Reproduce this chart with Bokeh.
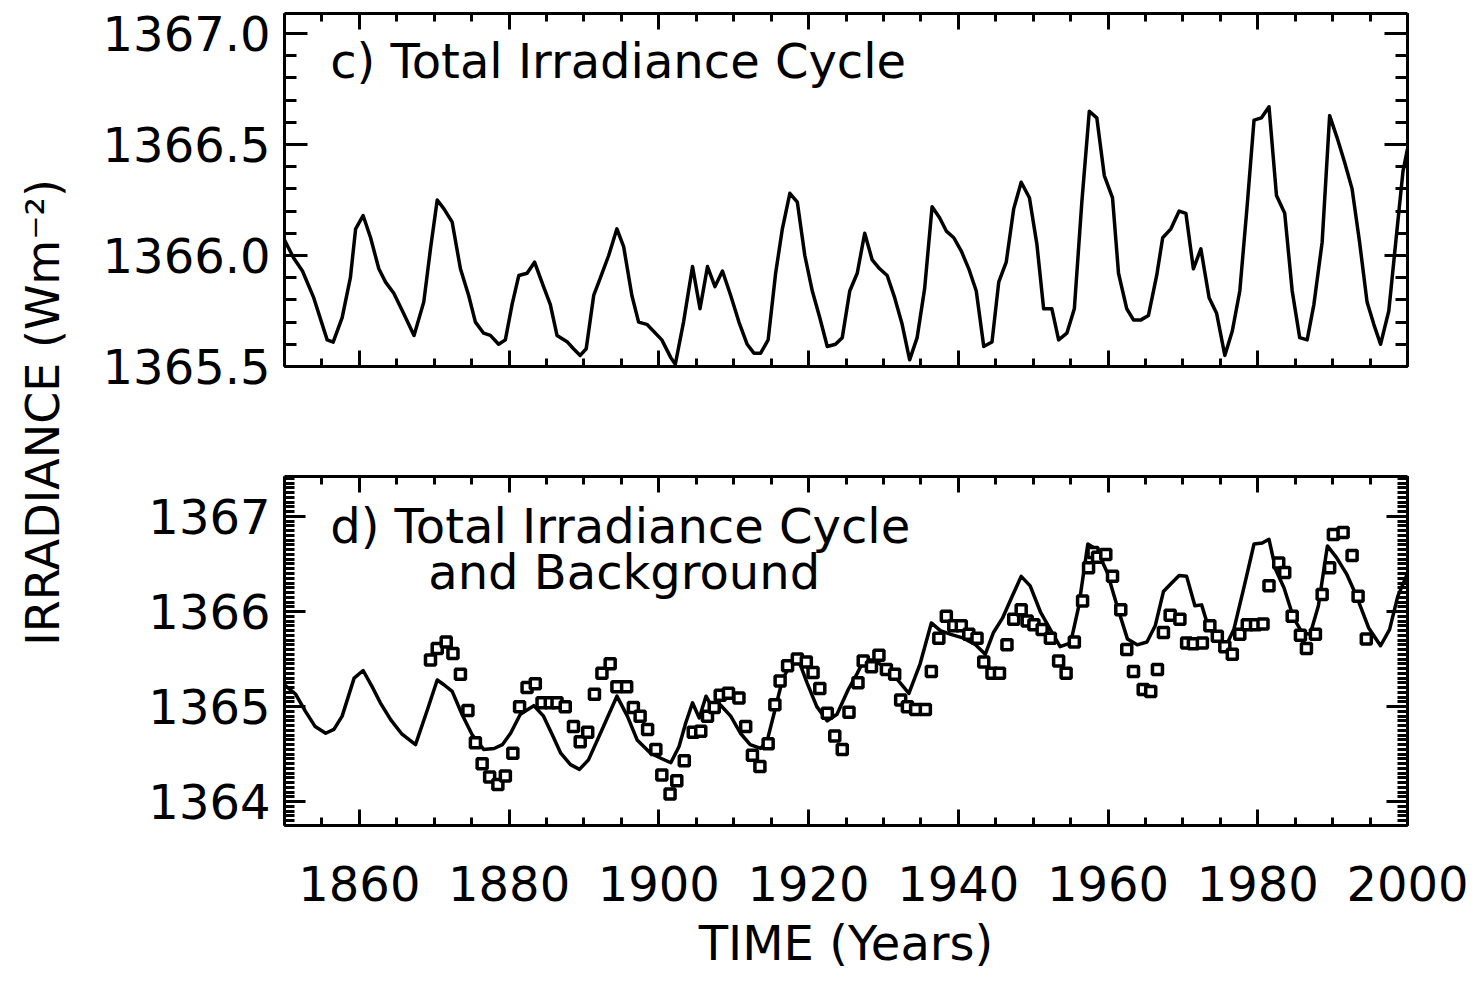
import math
from bokeh.plotting import figure
from bokeh.models import (Range1d, LinearAxis, SingleIntervalTicker, PrintfTickFormatter,
                          CustomJSTickFormatter, Label)
from bokeh.layouts import row, column
from bokeh.embed import file_html
from bokeh.resources import INLINE

# ---------------- data ----------------
# panel c) total irradiance cycle
years_c = [1850.0, 1851.2, 1852.4, 1853.9, 1855.7, 1856.5, 1857.7, 1858.8, 1859.5, 1860.5,
           1861.5, 1862.6, 1863.5, 1864.6, 1865.9, 1867.3, 1868.6, 1869.5, 1870.4, 1871.3,
           1872.4, 1873.5, 1874.6, 1875.5, 1876.6, 1877.5, 1878.6, 1879.5, 1880.4, 1881.3,
           1882.4, 1883.4, 1884.6, 1885.5, 1886.4, 1887.8, 1888.6, 1889.5, 1890.3, 1891.3,
           1892.2, 1893.3, 1894.4, 1895.3, 1896.4, 1897.3, 1898.4, 1900.4, 1901.6, 1902.2,
           1903.3, 1904.5, 1905.5, 1906.5, 1907.5, 1908.5, 1909.6, 1910.7, 1911.8, 1912.7,
           1913.6, 1914.6, 1915.6, 1916.5, 1917.5, 1918.5, 1919.5, 1920.5, 1921.5, 1922.5,
           1923.6, 1924.5, 1925.5, 1926.5, 1927.5, 1928.5, 1929.5, 1930.5, 1931.5, 1932.5,
           1933.5, 1934.5, 1935.5, 1936.5, 1937.5, 1938.4, 1939.4, 1940.4, 1941.4, 1942.4,
           1943.4, 1944.5, 1945.4, 1946.4, 1947.4, 1948.4, 1949.5, 1950.5, 1951.4, 1952.5,
           1953.4, 1954.5, 1955.5, 1956.5, 1957.5, 1958.5, 1959.5, 1960.6, 1961.4, 1962.5,
           1963.4, 1964.4, 1965.4, 1966.5, 1967.3, 1968.4, 1969.5, 1970.4, 1971.4, 1972.4,
           1973.5, 1974.5, 1975.6, 1976.6, 1977.6, 1978.6, 1979.5, 1980.5, 1981.5, 1982.5,
           1983.6, 1984.6, 1985.6, 1986.6, 1987.5, 1988.6, 1989.6, 1990.6, 1991.6, 1992.6,
           1993.6, 1994.6, 1995.5, 1996.4, 1997.5, 1998.4, 1999.4, 2000.0]
irr_c = [1366.07, 1365.99, 1365.93, 1365.81, 1365.62, 1365.61, 1365.72, 1365.90, 1366.12, 1366.18,
         1366.08, 1365.94, 1365.88, 1365.83, 1365.74, 1365.64, 1365.79, 1366.03, 1366.25, 1366.21,
         1366.15, 1365.94, 1365.82, 1365.70, 1365.65, 1365.64, 1365.60, 1365.62, 1365.78, 1365.91,
         1365.92, 1365.97, 1365.86, 1365.78, 1365.64, 1365.61, 1365.58, 1365.55, 1365.58, 1365.82,
         1365.90, 1366.00, 1366.12, 1366.04, 1365.82, 1365.70, 1365.69, 1365.62, 1365.54, 1365.51,
         1365.70, 1365.95, 1365.76, 1365.95, 1365.86, 1365.93, 1365.82, 1365.70, 1365.60, 1365.56,
         1365.56, 1365.62, 1365.92, 1366.12, 1366.28, 1366.24, 1366.00, 1365.84, 1365.72, 1365.59,
         1365.60, 1365.63, 1365.84, 1365.92, 1366.10, 1365.98, 1365.94, 1365.91, 1365.81, 1365.69,
         1365.53, 1365.63, 1365.85, 1366.22, 1366.17, 1366.11, 1366.08, 1366.02, 1365.94, 1365.84,
         1365.59, 1365.61, 1365.88, 1365.97, 1366.21, 1366.33, 1366.26, 1366.05, 1365.76, 1365.76,
         1365.62, 1365.65, 1365.76, 1366.24, 1366.65, 1366.62, 1366.36, 1366.26, 1365.92, 1365.76,
         1365.71, 1365.71, 1365.73, 1365.91, 1366.08, 1366.12, 1366.20, 1366.19, 1365.94, 1366.03,
         1365.81, 1365.74, 1365.55, 1365.66, 1365.84, 1366.23, 1366.61, 1366.62, 1366.67, 1366.27,
         1366.19, 1365.84, 1365.63, 1365.62, 1365.78, 1366.06, 1366.63, 1366.53, 1366.42, 1366.30,
         1366.06, 1365.79, 1365.69, 1365.60, 1365.75, 1366.05, 1366.38, 1366.48]

# panel d) cycle plus background (line)
years_d = [1850.0, 1851.5, 1852.8, 1854.1, 1855.5, 1856.6, 1857.7, 1859.3, 1860.5, 1861.7,
           1862.8, 1864.2, 1865.7, 1867.5, 1869.1, 1870.4, 1871.3, 1872.4, 1873.7, 1875.1,
           1876.6, 1878.0, 1879.1, 1880.2, 1881.5, 1883.3, 1884.6, 1885.8, 1886.9, 1888.2,
           1889.4, 1890.6, 1892.2, 1894.4, 1895.8, 1897.1, 1898.9, 1900.2, 1901.6, 1902.7,
           1903.6, 1904.5, 1905.4, 1906.3, 1907.3, 1908.2, 1909.6, 1910.9, 1912.2, 1913.6,
           1914.5, 1915.4, 1916.5, 1917.8, 1918.7, 1919.8, 1921.1, 1922.5, 1923.8, 1925.3,
           1926.5, 1927.4, 1928.7, 1930.1, 1931.6, 1933.4, 1934.9, 1936.4, 1937.6, 1939.0,
           1940.7, 1942.3, 1943.6, 1944.7, 1945.9, 1947.2, 1948.4, 1949.6, 1951.0, 1952.3,
           1953.6, 1955.0, 1956.1, 1957.3, 1958.5, 1959.9, 1961.2, 1962.6, 1963.9, 1965.2,
           1966.3, 1967.4, 1968.5, 1969.5, 1970.5, 1971.6, 1972.5, 1973.5, 1974.5, 1975.7,
           1976.8, 1978.2, 1979.5, 1980.6, 1981.5, 1982.4, 1983.5, 1984.8, 1985.9, 1987.0,
           1988.1, 1989.3, 1990.5, 1991.9, 1993.2, 1994.8, 1996.4, 1997.6, 1998.7, 2000.0]
irr_d = [1365.23, 1365.13, 1364.95, 1364.79, 1364.72, 1364.76, 1364.90, 1365.30, 1365.38, 1365.21,
         1365.04, 1364.86, 1364.71, 1364.60, 1364.97, 1365.28, 1365.23, 1365.16, 1364.92, 1364.70,
         1364.55, 1364.56, 1364.60, 1364.72, 1364.92, 1365.01, 1364.90, 1364.70, 1364.51, 1364.39,
         1364.34, 1364.44, 1364.72, 1365.11, 1364.90, 1364.65, 1364.51, 1364.46, 1364.41, 1364.58,
         1364.83, 1365.04, 1364.88, 1365.11, 1364.97, 1365.02, 1364.90, 1364.72, 1364.60, 1364.56,
         1364.65, 1364.93, 1365.28, 1365.48, 1365.48, 1365.25, 1365.00, 1364.85, 1364.92, 1365.18,
         1365.35, 1365.49, 1365.49, 1365.42, 1365.31, 1365.14, 1365.45, 1365.88, 1365.80, 1365.76,
         1365.72, 1365.65, 1365.55, 1365.78, 1365.93, 1366.16, 1366.37, 1366.27, 1365.99, 1365.81,
         1365.63, 1365.67, 1366.06, 1366.71, 1366.65, 1366.41, 1366.06, 1365.71, 1365.65, 1365.68,
         1365.85, 1366.21, 1366.30, 1366.38, 1366.37, 1366.06, 1366.07, 1365.81, 1365.76, 1365.63,
         1365.81, 1366.27, 1366.71, 1366.72, 1366.76, 1366.44, 1366.25, 1365.93, 1365.78, 1365.76,
         1366.06, 1366.69, 1366.57, 1366.39, 1366.16, 1365.83, 1365.64, 1365.81, 1366.16, 1366.40]

# panel d) reconstruction points (squares)
years_sq = [1869.5, 1870.4, 1871.6, 1872.5, 1873.5, 1874.5, 1875.5, 1876.4, 1877.4, 1878.5,
            1879.5, 1880.5, 1881.4, 1882.4, 1883.5, 1884.4, 1885.5, 1886.4, 1887.5, 1888.6,
            1889.5, 1890.5, 1891.4, 1892.4, 1893.5, 1894.4, 1895.7, 1896.6, 1897.5, 1898.5,
            1899.6, 1900.4, 1901.5, 1902.4, 1903.4, 1904.6, 1905.6, 1906.5, 1907.4, 1908.2,
            1909.3, 1910.7, 1911.6, 1912.5, 1913.5, 1914.6, 1915.5, 1916.2, 1917.2, 1918.5,
            1919.7, 1920.6, 1921.5, 1922.5, 1923.5, 1924.5, 1925.4, 1926.6, 1927.3, 1928.4,
            1929.4, 1930.4, 1931.5, 1932.3, 1933.2, 1934.3, 1935.6, 1936.4, 1937.4, 1938.4,
            1939.4, 1940.4, 1941.4, 1942.5, 1943.4, 1944.5, 1945.5, 1946.5, 1947.4, 1948.4,
            1949.2, 1950.1, 1951.2, 1952.3, 1953.4, 1954.4, 1955.5, 1956.6, 1957.4, 1958.0,
            1958.6, 1959.7, 1960.6, 1961.7, 1962.5, 1963.4, 1964.7, 1965.7, 1966.6, 1967.4,
            1968.3, 1969.6, 1970.5, 1971.4, 1972.6, 1973.6, 1974.6, 1975.6, 1976.6, 1977.6,
            1978.6, 1979.7, 1980.7, 1981.5, 1982.8, 1983.6, 1984.6, 1985.7, 1986.5, 1987.7,
            1988.6, 1989.6, 1990.1, 1991.4, 1992.6, 1993.4, 1994.5]
irr_sq = [1365.49, 1365.61, 1365.68, 1365.56, 1365.34, 1364.96, 1364.62, 1364.40, 1364.26, 1364.18,
          1364.27, 1364.51, 1365.00, 1365.20, 1365.24, 1365.04, 1365.04, 1365.04, 1365.00, 1364.79,
          1364.63, 1364.73, 1365.13, 1365.35, 1365.45, 1365.21, 1365.21, 1364.99, 1364.90, 1364.76,
          1364.55, 1364.28, 1364.08, 1364.22, 1364.43, 1364.73, 1364.74, 1364.90, 1364.99, 1365.12,
          1365.14, 1365.09, 1364.79, 1364.49, 1364.37, 1364.61, 1365.02, 1365.27, 1365.43, 1365.50,
          1365.47, 1365.36, 1365.19, 1364.93, 1364.69, 1364.55, 1364.94, 1365.25, 1365.48, 1365.42,
          1365.54, 1365.39, 1365.34, 1365.07, 1365.00, 1364.97, 1364.97, 1365.37, 1365.72, 1365.95,
          1365.85, 1365.85, 1365.76, 1365.72, 1365.47, 1365.35, 1365.35, 1365.65, 1365.92, 1366.02,
          1365.90, 1365.86, 1365.81, 1365.72, 1365.48, 1365.35, 1365.68, 1366.11, 1366.46, 1366.62,
          1366.57, 1366.60, 1366.37, 1366.02, 1365.60, 1365.37, 1365.18, 1365.16, 1365.39, 1365.78,
          1365.96, 1365.92, 1365.67, 1365.66, 1365.67, 1365.85, 1365.74, 1365.63, 1365.55, 1365.76,
          1365.86, 1365.86, 1365.87, 1366.27, 1366.51, 1366.41, 1365.95, 1365.75, 1365.61, 1365.76,
          1366.18, 1366.46, 1366.81, 1366.83, 1366.59, 1366.16, 1365.71]

FONT = "DejaVu Sans"
FS = "48px"
PANEL_W = 1382
BAR_COLOR = "#7f9ef7"


def blank_formatter():
    return CustomJSTickFormatter(code="return ''")


def style_axis(ax, major_in, minor_in, labels=True):
    ax.axis_line_width = 3
    ax.axis_line_color = "black"
    ax.major_tick_in = major_in
    ax.major_tick_out = 0
    ax.minor_tick_in = minor_in
    ax.minor_tick_out = 0
    ax.major_tick_line_width = 3
    ax.minor_tick_line_width = 3
    ax.major_tick_line_color = "black"
    ax.minor_tick_line_color = "black"
    ax.major_label_text_font = FONT
    ax.major_label_text_font_size = FS
    ax.major_label_text_color = "black"
    if not labels:
        ax.formatter = blank_formatter()
        ax.major_label_standoff = 0


def make_panel(height, yr, yint, yminor, yfmt, ymaj_in, ymin_in, border_top, border_bottom, show_x):
    p = figure(width=PANEL_W, height=height, x_range=Range1d(1850, 2000), y_range=Range1d(*yr),
               output_backend="svg", toolbar_location=None,
               min_border_left=186, min_border_right=PANEL_W - 186 - 1123,
               min_border_top=border_top, min_border_bottom=border_bottom)
    p.outline_line_color = None
    p.xgrid.visible = False
    p.ygrid.visible = False
    p.background_fill_color = "white"
    p.border_fill_color = "white"

    # y axes (left labelled, right mirrored)
    yl = p.yaxis[0]
    yl.ticker = SingleIntervalTicker(interval=yint, num_minor_ticks=yminor)
    yl.formatter = PrintfTickFormatter(format=yfmt)
    style_axis(yl, ymaj_in, ymin_in)
    yl.major_label_standoff = 14
    yr_ax = LinearAxis(ticker=SingleIntervalTicker(interval=yint, num_minor_ticks=yminor))
    style_axis(yr_ax, ymaj_in, ymin_in, labels=False)
    p.add_layout(yr_ax, "right")

    # x axes (bottom, top mirrored)
    xb = p.xaxis[0]
    xb.ticker = SingleIntervalTicker(interval=20, num_minor_ticks=4)
    if show_x:
        xb.formatter = PrintfTickFormatter(format="%d")
        style_axis(xb, 16, 8)
        xb.major_label_standoff = 40
        xb.axis_label = "TIME (Years)"
        xb.axis_label_text_font = FONT
        xb.axis_label_text_font_size = FS
        xb.axis_label_text_font_style = "normal"
        xb.axis_label_text_color = "black"
        xb.axis_label_standoff = 11
    else:
        style_axis(xb, 16, 8, labels=False)
    xt = LinearAxis(ticker=SingleIntervalTicker(interval=20, num_minor_ticks=4))
    style_axis(xt, 16, 8, labels=False)
    p.add_layout(xt, "above")
    return p


# ---------------- panel c ----------------
pc = make_panel(416, (1365.5, 1367.09), 0.5, 5, "%.1f", 23, 12, 9, 54, False)
pc.line(years_c, irr_c, line_width=3.5, line_color="black", line_join="round")
pc.add_layout(Label(x=1856.1, y=1366.875, text="c) Total Irradiance Cycle",
                    text_font=FONT, text_font_size=FS, text_color="black",
                    text_baseline="alphabetic", text_align="left"))

# ---------------- panel d ----------------
pd_ = make_panel(561, (1363.75, 1367.42), 1, 20, "%d", 21, 10, 56, 156, True)
pd_.line(years_d, irr_d, line_width=3.5, line_color="black", line_join="round")
pd_.scatter(years_sq, irr_sq, marker="square", size=10, fill_color="white",
            line_color="black", line_width=3.5)
pd_.add_layout(Label(x=1856.1, y=1366.90, text="d) Total Irradiance Cycle",
                     text_font=FONT, text_font_size=FS, text_color="black",
                     text_baseline="alphabetic", text_align="left"))
pd_.add_layout(Label(x=1869.2, y=1366.42, text="and Background",
                     text_font=FONT, text_font_size=FS, text_color="black",
                     text_baseline="alphabetic", text_align="left"))

# ---------------- shared y label ----------------
pl = figure(width=98, height=977, x_range=Range1d(0, 1), y_range=Range1d(0, 1),
            output_backend="svg", toolbar_location=None, min_border=0)
pl.axis.visible = False
pl.xgrid.visible = False
pl.ygrid.visible = False
pl.outline_line_color = None
pl.add_layout(Label(x=0.43, y=0.5824, text="IRRADIANCE (Wm\u207b\u00b2)", angle=math.pi / 2,
                    text_font=FONT, text_font_size="46px", text_color="black",
                    text_align="center", text_baseline="middle"))

# ---------------- thin blue slide bar across the top ----------------
bar = figure(width=1480, height=4, output_backend="svg", toolbar_location=None,
             min_border=0, x_range=Range1d(0, 1), y_range=Range1d(0, 1))
bar.axis.visible = False
bar.xgrid.visible = False
bar.ygrid.visible = False
bar.outline_line_color = None
bar.background_fill_color = BAR_COLOR
bar.border_fill_color = BAR_COLOR
bar.quad(left=[0], right=[1], bottom=[0], top=[1], fill_color=BAR_COLOR, line_color=None)

layout = column(bar, row(pl, column(pc, pd_)))
open("out.html", "w").write(file_html(layout, INLINE))
